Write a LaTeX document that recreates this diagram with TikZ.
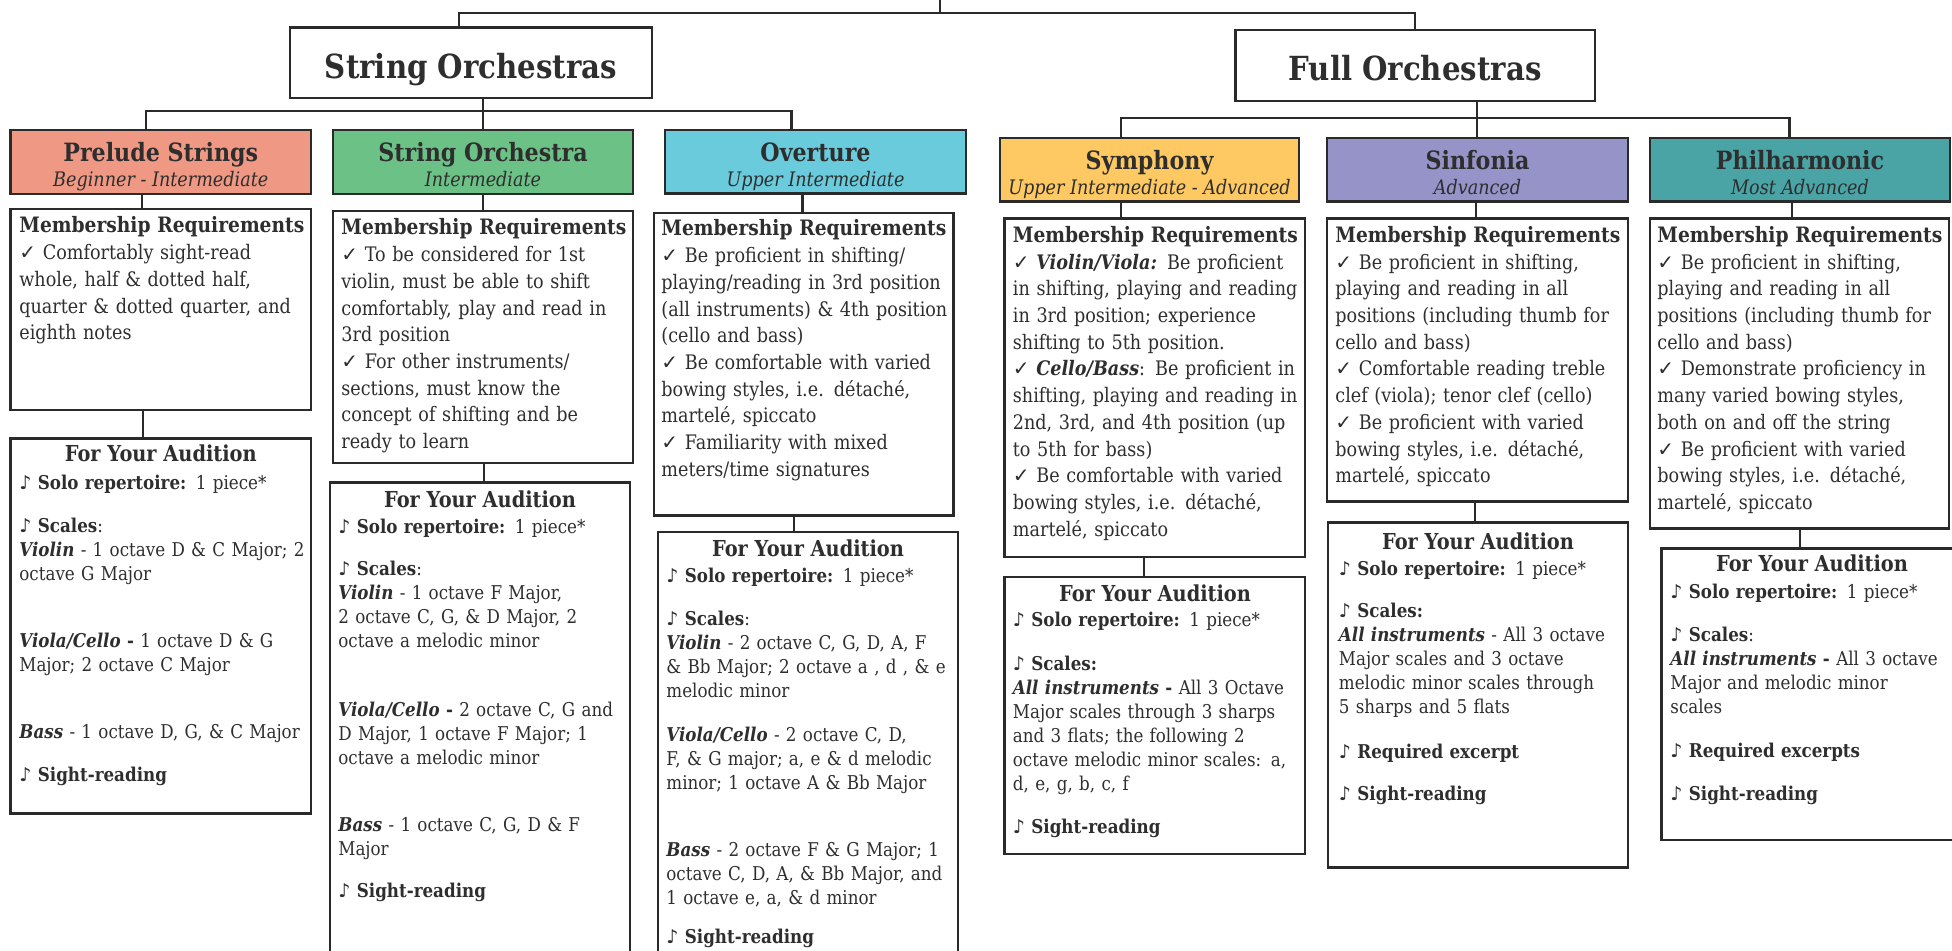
\documentclass[tikz,border=0pt]{standalone}
\usepackage{fontspec}
\setmainfont{DejaVu Serif}[FakeStretch=0.88]
\newfontfamily\symfont{DejaVu Sans}
\usetikzlibrary{fit}
\definecolor{cpre}{HTML}{EF9883}
\definecolor{cso}{HTML}{6CC286}
\definecolor{cov}{HTML}{6ACBDC}
\definecolor{csym}{HTML}{FEC963}
\definecolor{csin}{HTML}{9593C7}
\definecolor{cphil}{HTML}{4AA3A4}
\definecolor{ink}{HTML}{2A2A2A}
\definecolor{txt}{HTML}{2E2E2E}
\newcommand\ck{{\symfont ✓}}
\newcommand\nt{{\symfont\bfseries ♪}}
\newcommand\bi[1]{\textbf{\textit{#1}}}
\newcommand\mrh{{\fontsize{10.6}{13.35}\selectfont\bfseries Membership Requirements}}
\newcommand\bx[6]{\node[fit={(#3,#4)(#5,#6)},inner sep=0pt,outer sep=0pt,#2] (#1) {};}
\begin{document}
\begin{tikzpicture}[x=0.5pt,y=-0.5pt,
  conn/.style={draw=ink,line width=1.3pt},
  bxs/.style={draw=ink,line width=1.3pt,fill=white},
  grptitle/.style={font=\fontsize{16.6}{19}\selectfont\bfseries,text=txt,anchor=base,inner sep=0pt},
  hdtitle/.style={font=\fontsize{12.6}{14}\selectfont\bfseries,text=txt,anchor=base,inner sep=0pt},
  hdsub/.style={font=\fontsize{10}{12}\selectfont\itshape,text=txt,anchor=base,inner sep=0pt},
  mrtext/.style={font=\fontsize{10}{13.35}\selectfont,text=txt,anchor=base west,inner sep=0pt,text width=200pt,align=left},
  autitle/.style={font=\fontsize{11}{12}\selectfont\bfseries,text=txt,anchor=base,inner sep=0pt},
  autext/.style={font=\fontsize{9.5}{12}\selectfont,text=txt,anchor=base west,inner sep=0pt,text width=200pt,align=left}]
\useasboundingbox (0,0) rectangle (1952,951);
% group boxes
\bx{gSO}{bxs}{290}{27.5}{652}{98}
\bx{gFO}{bxs}{1235.5}{30}{1595}{101}
% header boxes
\bx{hPre}{bxs,fill=cpre}{10.5}{130}{311}{194}
\bx{hSO}{bxs,fill=cso}{333}{130}{633}{194}
\bx{hOv}{bxs,fill=cov}{665}{130}{966}{193.5}
\bx{hSym}{bxs,fill=csym}{1000}{138}{1299}{201.5}
\bx{hSin}{bxs,fill=csin}{1327}{138}{1628}{201.5}
\bx{hPhil}{bxs,fill=cphil}{1650}{138}{1950}{201.5}
% membership boxes
\bx{mPre}{bxs}{10.5}{209}{311}{410}
\bx{mSO}{bxs}{333}{211}{633}{463}
\bx{mOv}{bxs}{654}{213}{953.5}{515.5}
\bx{mSym}{bxs}{1004.5}{218.7}{1305}{557}
\bx{mSin}{bxs}{1327}{218.7}{1628}{501.7}
\bx{mPhil}{bxs}{1650}{218.7}{1949}{528.5}
% audition boxes
\bx{aPre}{bxs}{10.5}{438.6}{311}{813.5}
\bx{aSO}{bxs}{330}{482.6}{630}{1000}
\bx{aOv}{bxs}{658}{532}{958}{1000}
\bx{aSym}{bxs}{1004.5}{577}{1305}{854}
\bx{aSin}{bxs}{1328}{522.7}{1628}{867.7}
\bx{aPhil}{bxs}{1661.5}{548.3}{1962}{840}
% connectors: root
\coordinate (rootEnd) at (940,-10);
\coordinate (jTop) at (940,13);
\coordinate (jL) at (459,13);
\coordinate (jR) at (1415,13);
\draw[conn] (rootEnd) -- (jTop);
\draw[conn] (gSO.north -| jL) -- (jL) -- (jR) -- (gFO.north -| jR);
% string branch
\coordinate (sA) at (146,111);
\coordinate (sB) at (483,111);
\coordinate (sC) at (791.5,111);
\draw[conn] (hPre.north -| sA) -- (sA) -- (sC) -- (hOv.north -| sC);
\draw[conn] (gSO.south -| sB) -- (hSO.north -| sB);
% full branch
\coordinate (fA) at (1121,118);
\coordinate (fB) at (1477,118);
\coordinate (fC) at (1789.5,118);
\draw[conn] (hSym.north -| fA) -- (fA) -- (fC) -- (hPhil.north -| fC);
\draw[conn] (gFO.south -| fB) -- (hSin.north -| fB);
% header -> membership
\coordinate (p1) at (142,0);
\coordinate (p2) at (483,0);
\coordinate (p3) at (802.5,0);
\coordinate (p4) at (1121,0);
\coordinate (p5) at (1476,0);
\coordinate (p6) at (1792,0);
\draw[conn] (hPre.south -| p1) -- (mPre.north -| p1);
\draw[conn] (hSO.south -| p2) -- (mSO.north -| p2);
\draw[conn] (hOv.south -| p3) -- (mOv.north -| p3);
\draw[conn] (hSym.south -| p4) -- (mSym.north -| p4);
\draw[conn] (hSin.south -| p5) -- (mSin.north -| p5);
\draw[conn] (hPhil.south -| p6) -- (mPhil.north -| p6);
% membership -> audition
\coordinate (q1) at (143,0);
\coordinate (q2) at (484,0);
\coordinate (q3) at (794,0);
\coordinate (q4) at (1144,0);
\coordinate (q5) at (1475,0);
\coordinate (q6) at (1800,0);
\draw[conn] (mPre.south -| q1) -- (aPre.north -| q1);
\draw[conn] (mSO.south -| q2) -- (aSO.north -| q2);
\draw[conn] (mOv.south -| q3) -- (aOv.north -| q3);
\draw[conn] (mSym.south -| q4) -- (aSym.north -| q4);
\draw[conn] (mSin.south -| q5) -- (aSin.north -| q5);
\draw[conn] (mPhil.south -| q6) -- (aPhil.north -| q6);
% group titles
\node[grptitle] (tSO) at (471,79) {String Orchestras};
\node[grptitle] (tFO) at (1415,81) {Full Orchestras};
% header titles
\node[hdtitle] (tPre) at (160.75,161.5) {Prelude Strings};
\node[hdsub] (sPre) at (160.75,187) {Beginner - Intermediate};
\node[hdtitle] (tSOh) at (483,161.5) {String Orchestra};
\node[hdsub] (sSO) at (483,187) {Intermediate};
\node[hdtitle] (tOv) at (815.5,161.5) {Overture};
\node[hdsub] (sOv) at (815.5,187) {Upper Intermediate};
\node[hdtitle] (tSym) at (1149.5,169.5) {Symphony};
\node[hdsub] (sSym) at (1149.5,195) {Upper Intermediate - Advanced};
\node[hdtitle] (tSin) at (1477.5,169.5) {Sinfonia};
\node[hdsub] (sSin) at (1477.5,195) {Advanced};
\node[hdtitle] (tPhil) at (1800,169.5) {Philharmonic};
\node[hdsub] (sPhil) at (1800,195) {Most Advanced};
% membership texts
\node[mrtext] (mPreT) at (19,233) {\mrh\\
\ck{} Comfortably sight-read\\
whole, half \& dotted half,\\
quarter \& dotted quarter, and\\
eighth notes};
\node[mrtext] (mSOT) at (341,235) {\mrh\\
\ck{} To be considered for 1st\\
violin, must be able to shift\\
comfortably, play and read in\\
3rd position\\
\ck{} For other instruments/\\
sections, must know the\\
concept of shifting and be\\
ready to learn};
\node[mrtext] (mOvT) at (661,236) {\mrh\\
\ck{} Be proficient in shifting/\\
playing/reading in 3rd position\\
(all instruments) \& 4th position\\
(cello and bass)\\
\ck{} Be comfortable with varied\\
bowing styles, i.e. détaché,\\
martelé, spiccato\\
\ck{} Familiarity with mixed\\
meters/time signatures};
\node[mrtext] (mSymT) at (1012.5,242.5) {\mrh\\
\ck{} \bi{Violin/Viola:} Be proficient\\
in shifting, playing and reading\\
in 3rd position; experience\\
shifting to 5th position.\\
\ck{} \bi{Cello/Bass}: Be proficient in\\
shifting, playing and reading in\\
2nd, 3rd, and 4th position (up\\
to 5th for bass)\\
\ck{} Be comfortable with varied\\
bowing styles, i.e. détaché,\\
martelé, spiccato};
\node[mrtext] (mSinT) at (1335,242.5) {\mrh\\
\ck{} Be proficient in shifting,\\
playing and reading in all\\
positions (including thumb for\\
cello and bass)\\
\ck{} Comfortable reading treble\\
clef (viola); tenor clef (cello)\\
\ck{} Be proficient with varied\\
bowing styles, i.e. détaché,\\
martelé, spiccato};
\node[mrtext] (mPhilT) at (1657,242.5) {\mrh\\
\ck{} Be proficient in shifting,\\
playing and reading in all\\
positions (including thumb for\\
cello and bass)\\
\ck{} Demonstrate proficiency in\\
many varied bowing styles,\\
both on and off the string\\
\ck{} Be proficient with varied\\
bowing styles, i.e. détaché,\\
martelé, spiccato};
% audition: prelude
\node[autitle] (aPreH) at (160.75,462) {For Your Audition};
\node[autext] (aPre1) at (19,489) {\nt{} \textbf{Solo repertoire:} 1 piece*};
\node[autext] (aPre2) at (19,532) {\nt{} \textbf{Scales}:\\
\bi{Violin} - 1 octave D \& C Major; 2\\
octave G Major};
\node[autext] (aPre3) at (19,647.5) {\bi{Viola/Cello} \textbf{-} 1 octave D \& G\\
Major; 2 octave C Major};
\node[autext] (aPre4) at (19,738) {\bi{Bass} - 1 octave D, G, \& C Major};
\node[autext] (aPre5) at (19,781) {\nt{} \textbf{Sight-reading}};
% audition: string orchestra
\node[autitle] (aSOH) at (480,507.5) {For Your Audition};
\node[autext] (aSO1) at (338,533) {\nt{} \textbf{Solo repertoire:} 1 piece*};
\node[autext] (aSO2) at (338,575.5) {\nt{} \textbf{Scales}:\\
\bi{Violin} - 1 octave F Major,\\
2 octave C, G, \& D Major, 2\\
octave a melodic minor};
\node[autext] (aSO3) at (338,716) {\bi{Viola/Cello} \textbf{-} 2 octave C, G and\\
D Major, 1 octave F Major; 1\\
octave a melodic minor};
\node[autext] (aSO4) at (338,831) {\bi{Bass} - 1 octave C, G, D \& F\\
Major};
\node[autext] (aSO5) at (338,897) {\nt{} \textbf{Sight-reading}};
% audition: overture
\node[autitle] (aOvH) at (808,556) {For Your Audition};
\node[autext] (aOv1) at (666,582.5) {\nt{} \textbf{Solo repertoire:} 1 piece*};
\node[autext] (aOv2) at (666,625) {\nt{} \textbf{Scales}:\\
\bi{Violin} - 2 octave C, G, D, A, F\\
\& Bb Major; 2 octave a , d , \& e\\
melodic minor};
\node[autext] (aOv3) at (666,741.5) {\bi{Viola/Cello} - 2 octave C, D,\\
F, \& G major; a, e \& d melodic\\
minor; 1 octave A \& Bb Major};
\node[autext] (aOv4) at (666,856) {\bi{Bass} - 2 octave F \& G Major; 1\\
octave C, D, A, \& Bb Major, and\\
1 octave e, a, \& d minor};
\node[autext] (aOv5) at (666,943) {\nt{} \textbf{Sight-reading}};
% audition: symphony
\node[autitle] (aSymH) at (1155,601.5) {For Your Audition};
\node[autext] (aSym1) at (1012.5,626.5) {\nt{} \textbf{Solo repertoire:} 1 piece*};
\node[autext] (aSym2) at (1012.5,670) {\nt{} \textbf{Scales:}\\
\bi{All instruments} \textbf{-} All 3 Octave\\
Major scales through 3 sharps\\
and 3 flats; the following 2\\
octave melodic minor scales: a,\\
d, e, g, b, c, f};
\node[autext] (aSym3) at (1012.5,833) {\nt{} \textbf{Sight-reading}};
% audition: sinfonia
\node[autitle] (aSinH) at (1478,549) {For Your Audition};
\node[autext] (aSin1) at (1338.5,575.5) {\nt{} \textbf{Solo repertoire:} 1 piece*};
\node[autext] (aSin2) at (1338.5,617.5) {\nt{} \textbf{Scales:}\\
\bi{All instruments} - All 3 octave\\
Major scales and 3 octave\\
melodic minor scales through\\
5 sharps and 5 flats};
\node[autext] (aSin3) at (1338.5,758) {\nt{} \textbf{Required excerpt}};
\node[autext] (aSin4) at (1338.5,800.5) {\nt{} \textbf{Sight-reading}};
% audition: philharmonic
\node[autitle] (aPhilH) at (1812,571.5) {For Your Audition};
\node[autext] (aPhil1) at (1670,598) {\nt{} \textbf{Solo repertoire:} 1 piece*};
\node[autext] (aPhil2) at (1670,641.5) {\nt{} \textbf{Scales}:\\
\bi{All instruments} \textbf{-} All 3 octave\\
Major and melodic minor\\
scales};
\node[autext] (aPhil3) at (1670,757) {\nt{} \textbf{Required excerpts}};
\node[autext] (aPhil4) at (1670,800) {\nt{} \textbf{Sight-reading}};
\end{tikzpicture}
\end{document}
